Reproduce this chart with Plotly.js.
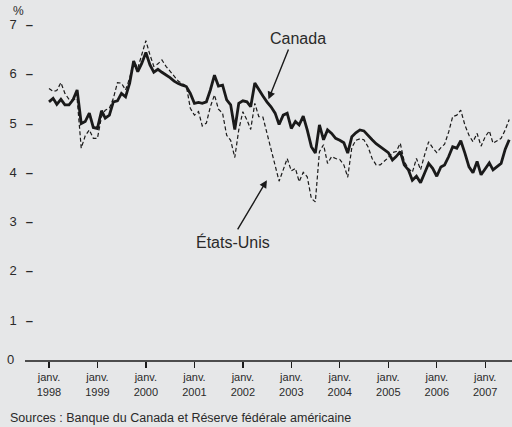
<!DOCTYPE html>
<html>
<head>
<meta charset="utf-8">
<script src="https://cdn.plot.ly/plotly-3.0.1.min.js"></script>
<style>
  html, body { margin: 0; padding: 0; background: #e6e7e8; }
  #chart { width: 512px; height: 427px; }
</style>
</head>
<body>
<div id="chart"></div>
<script>
// Monthly observations, January 1998 to July 2007
const startYear = 1998;
const monthCount = 115;

const canada = [
  5.43, 5.50, 5.38, 5.48, 5.37, 5.37, 5.47, 5.67, 4.99, 5.03, 5.20, 4.91,
  4.89, 5.25, 5.10, 5.16, 5.43, 5.45, 5.60, 5.53, 5.81, 6.26, 6.04, 6.21,
  6.43, 6.18, 6.03, 6.09, 6.03, 5.98, 5.92, 5.85, 5.80, 5.77, 5.74, 5.60,
  5.40, 5.42, 5.40, 5.43, 5.67, 5.97, 5.75, 5.77, 5.47, 5.37, 4.87, 5.40,
  5.45, 5.43, 5.33, 5.81, 5.67, 5.55, 5.43, 5.33, 5.20, 4.97, 5.16, 5.20,
  4.89, 5.03, 4.96, 5.14, 4.86, 4.52, 4.39, 4.96, 4.66, 4.86, 4.79, 4.69,
  4.65, 4.60, 4.39, 4.72, 4.80, 4.86, 4.84, 4.76, 4.66, 4.58, 4.52, 4.47,
  4.40, 4.25, 4.32, 4.42, 4.15, 4.05, 3.84, 3.92, 3.79, 3.98, 4.18, 4.08,
  3.92, 4.11, 4.15, 4.32, 4.52, 4.49, 4.64, 4.39, 4.11, 3.99, 4.22, 3.95,
  4.08, 4.19, 4.05, 4.11, 4.18, 4.47, 4.66
];

const etatsUnis = [
  5.70, 5.64, 5.66, 5.82, 5.60, 5.48, 5.47, 5.50, 4.49, 4.74, 4.86, 4.69,
  4.69, 5.13, 5.26, 5.30, 5.50, 5.82, 5.81, 5.67, 5.91, 6.26, 6.11, 6.41,
  6.67, 6.38, 6.15, 6.20, 6.28, 6.15, 6.05, 5.95, 5.85, 5.80, 5.75, 5.30,
  5.16, 5.23, 4.94, 5.00, 5.33, 5.57, 5.28, 5.20, 4.75, 4.65, 4.30, 4.86,
  5.23, 5.06, 4.87, 5.40, 5.13, 5.12, 4.79, 4.49, 4.11, 3.82, 4.05, 4.28,
  4.03, 4.08, 3.81, 4.00, 3.91, 3.47, 3.40, 4.42, 4.56, 4.18, 4.32, 4.28,
  4.26, 4.15, 3.90, 4.50, 4.65, 4.68, 4.66, 4.52, 4.28, 4.15, 4.15, 4.22,
  4.30, 4.40, 4.42, 4.59, 4.22, 4.08, 4.00, 4.28, 4.05, 4.35, 4.62, 4.50,
  4.40, 4.50, 4.57, 4.82, 5.13, 5.16, 5.26, 4.96, 4.75, 4.62, 4.79, 4.53,
  4.72, 4.84, 4.59, 4.64, 4.69, 4.86, 5.07
];

const tickYears = [1998, 1999, 2000, 2001, 2002, 2003, 2004, 2005, 2006, 2007];
const yTickValues = [1, 2, 3, 4, 5, 6, 7];

const months = [];
for (let i = 0; i < monthCount; i++) {
  const y = startYear + Math.floor(i / 12);
  const m = (i % 12) + 1;
  months.push(y + '-' + (m < 10 ? '0' + m : m) + '-01');
}

const ink = '#1a1a1a';
const textColor = '#2a2a2a';
const font = 'Arial, "Liberation Sans", Helvetica, sans-serif';
const plotWidth = 480;
const yRange = [0.172, 7.09];

const traces = [
  {
    x: months, y: etatsUnis, type: 'scatter', mode: 'lines', name: 'États-Unis',
    line: { color: ink, width: 1.2, dash: '4px,2.5px' }, hoverinfo: 'skip'
  },
  {
    x: months, y: canada, type: 'scatter', mode: 'lines', name: 'Canada',
    line: { color: ink, width: 2.8 }, hoverinfo: 'skip'
  }
];

const layout = {
  width: 512, height: 427,
  margin: { l: 32, r: 0, t: 20, b: 66 },
  paper_bgcolor: '#e6e7e8', plot_bgcolor: '#e6e7e8',
  showlegend: false,
  font: { family: font, color: textColor },
  xaxis: {
    type: 'date',
    range: ['1997-08-26', '2007-07-22'],
    tickvals: tickYears.map(y => y + '-01-01'),
    ticktext: tickYears.map(y => 'janv.<br>' + y),
    ticks: 'outside', ticklen: 6, tickwidth: 1.3, tickcolor: ink,
    showgrid: false, zeroline: false, showline: false,
    tickfont: { size: 11, color: textColor },
    fixedrange: true
  },
  yaxis: {
    range: yRange,
    tickvals: yTickValues,
    ticktext: yTickValues.map(v => v + '\u2002\u2009<b>\u2013</b>'),
    ticks: '',
    ticklabelstandoff: -2,
    showgrid: false, zeroline: false, showline: false,
    tickfont: { size: 13, color: textColor },
    fixedrange: true
  },
  shapes: [
    {
      type: 'line', xref: 'paper', yref: 'paper',
      x0: -7 / plotWidth, x1: 1, y0: 0, y1: 0,
      line: { color: ink, width: 1.5 }
    }
  ],
  annotations: [
    {
      text: '0', xref: 'paper', yref: 'paper', x: 0, y: 0,
      xanchor: 'right', yanchor: 'middle', xshift: -16, yshift: 2,
      showarrow: false, font: { size: 13, color: textColor }
    },
    {
      text: '%', xref: 'paper', yref: 'paper', x: 0, y: 1,
      xanchor: 'left', yanchor: 'middle', xshift: -21, yshift: 9,
      showarrow: false, font: { size: 12, color: textColor }
    },
    {
      text: 'Canada', xref: 'x', yref: 'y', x: '2003-02-18', y: 6.72,
      xanchor: 'center', yanchor: 'middle',
      showarrow: false, font: { size: 16, color: textColor }
    },
    {
      text: '', xref: 'x', yref: 'y', x: '2002-07-13', y: 5.48,
      axref: 'x', ayref: 'y', ax: '2002-12-15', ay: 6.52,
      showarrow: true, arrowhead: 2, arrowsize: 1.1, arrowwidth: 1.4, arrowcolor: ink
    },
    {
      text: 'États-Unis', xref: 'x', yref: 'y', x: '2001-10-16', y: 2.59,
      xanchor: 'center', yanchor: 'middle',
      showarrow: false, font: { size: 16, color: textColor }
    },
    {
      text: '', xref: 'x', yref: 'y', x: '2002-07-01', y: 3.84,
      axref: 'x', ayref: 'y', ax: '2001-11-16', ay: 2.81,
      showarrow: true, arrowhead: 2, arrowsize: 1.1, arrowwidth: 1.4, arrowcolor: ink
    },
    {
      text: 'Sources : Banque du Canada et Réserve fédérale américaine',
      xref: 'paper', yref: 'paper', x: 0, y: 0,
      xanchor: 'left', yanchor: 'middle', xshift: -24, yshift: -57,
      showarrow: false, font: { size: 12.5, color: textColor }
    }
  ]
};

Plotly.newPlot('chart', traces, layout, { displayModeBar: false, staticPlot: true });
</script>
</body>
</html>
